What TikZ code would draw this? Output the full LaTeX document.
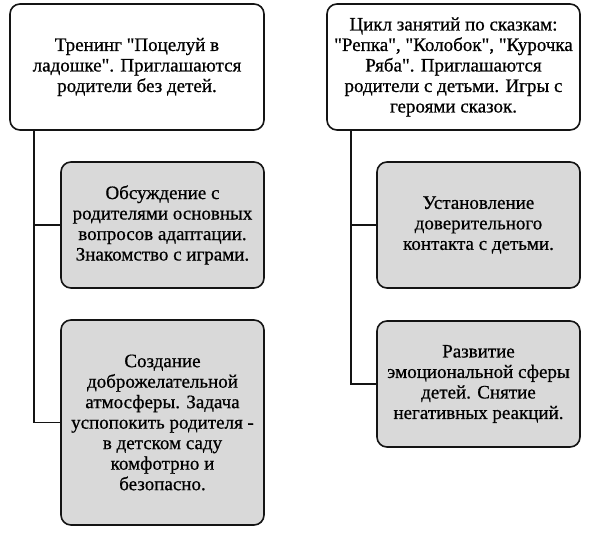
\documentclass[tikz,border=0pt]{standalone}
\usepackage{fontspec}
\setmainfont{Liberation Serif}[Ligatures=TeXOff, FakeBold=0.7]
\usepackage{xcolor}
\definecolor{boxgrey}{RGB}{217,217,217}
\definecolor{lineblack}{RGB}{20,20,20}
\usepackage{tikz}
\usetikzlibrary{positioning,calc}

\begin{document}
\begin{tikzpicture}[x=1pt,y=-1pt,
    every node/.style={font=\fontsize{19}{20.5}\selectfont, align=center, inner sep=0pt},
    stage/.style={draw=lineblack, line width=1.6pt, rounded corners=10pt, fill=white},
    task/.style={stage, fill=boxgrey, minimum width=203pt, minimum height=126pt},
    branch/.style={draw=lineblack, line width=1.6pt}]

    \useasboundingbox (0,0) rectangle (594,534);

    % left column
    \node[stage, minimum width=254pt, minimum height=126pt] (training) at (137,67)
        {Тренинг "Поцелуй в\\ладошке". Приглашаются\\родители без детей.};
    \node[task] (discuss) at (162.5,225)
        {Обсуждение с\\родителями основных\\вопросов адаптации.\\Знакомство с играми.};
    \node[task, minimum height=205pt] (calm) at (162.5,422.5)
        {Создание\\доброжелательной\\атмосферы. Задача\\успопокить родителя -\\в детском саду\\комфотрно и\\безопасно.};

    % right column
    \node[stage, minimum width=253pt, minimum height=126pt] (tales) at (453.5,67)
        {Цикл занятий по сказкам:\\"Репка", "Колобок", "Курочка\\Ряба". Приглашаются\\родители с детьми. Игры с\\героями сказок.};
    \node[task] (trust) at (478.5,225)
        {Установление\\доверительного\\контакта с детьми.};
    \node[task] (emotion) at (478.5,384)
        {Развитие\\эмоциональной сферы\\детей. Снятие\\негативных реакций.};

    \coordinate (ltrunk) at ($(training.south west)+(25,0)$);
    \coordinate (rtrunk) at ($(tales.south west)+(25,0)$);

    \draw[branch] (ltrunk) |- (calm.west);
    \draw[branch] (discuss.west) -- (discuss.west -| ltrunk);
    \draw[branch] (rtrunk) |- (emotion.west);
    \draw[branch] (trust.west) -- (trust.west -| rtrunk);
\end{tikzpicture}
\end{document}
